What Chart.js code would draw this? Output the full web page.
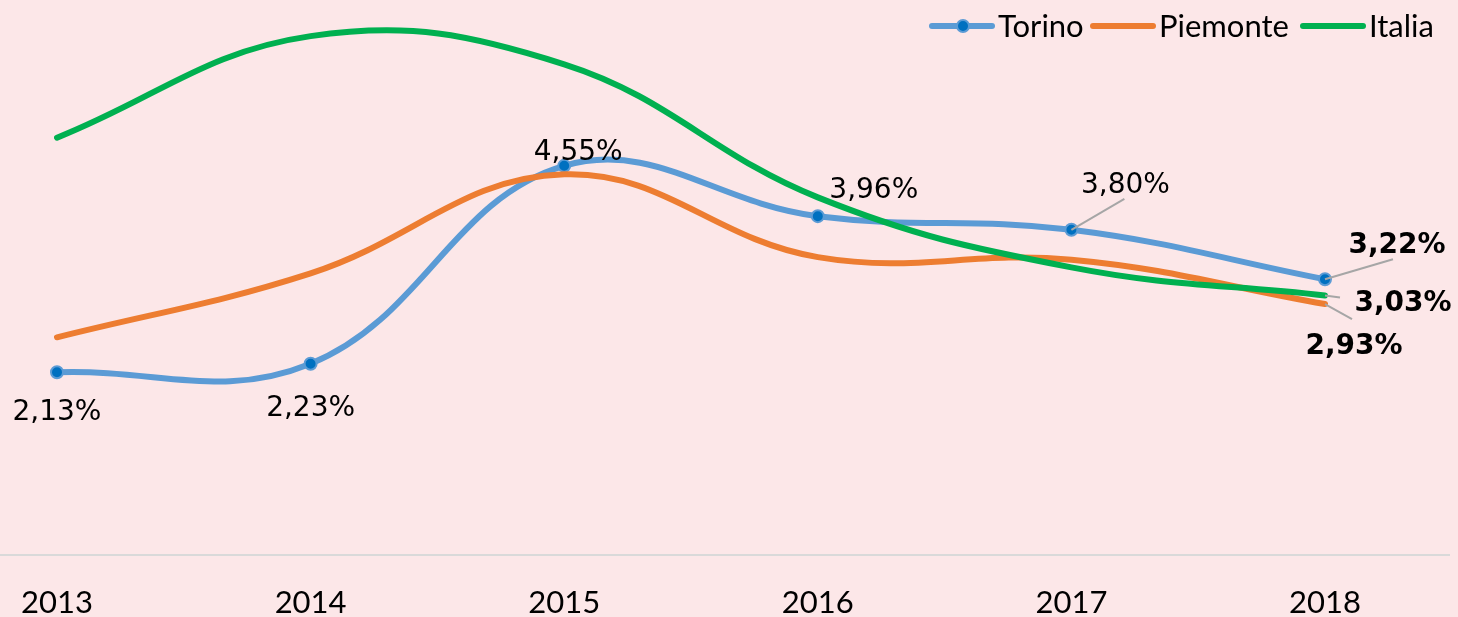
<!DOCTYPE html>
<html>
<head>
<meta charset="utf-8">
<script src="https://cdn.jsdelivr.net/npm/chart.js@4.4.1/dist/chart.umd.min.js"></script>
<style>
  html, body { margin: 0; padding: 0; background: #FCE7E8; overflow: hidden; }
  canvas { display: block; }
</style>
</head>
<body>
<canvas id="myChart" width="1458" height="617"></canvas>
<script>
const years = ['2013', '2014', '2015', '2016', '2017', '2018'];
const torino = [2.13, 2.23, 4.55, 3.96, 3.80, 3.22];
const piemonte = [2.54, 3.29, 4.45, 3.48, 3.45, 2.93];
const italia = [4.88, 6.07, 5.74, 4.18, 3.36, 3.03];

// which points get a label, and where it sits relative to the point
const labels = [
  { ds: 0, i: 0, dx: 0, dy: 48 },
  { ds: 0, i: 1, dx: 0, dy: 52 },
  { ds: 0, i: 2, dx: 14, dy: -6 },
  { ds: 0, i: 3, dx: 56, dy: -18 },
  { ds: 0, i: 4, dx: 54, dy: -37, lx: 53, ly: -31 },
  { ds: 0, i: 5, dx: 72, dy: -26, lx: 68, ly: -20, bold: true },
  { ds: 2, i: 5, dx: 78, dy: 15, lx: 15, ly: 2, bold: true },
  { ds: 1, i: 5, dx: 29, dy: 50, lx: 27, ly: 15, bold: true }
];

const fmt = v => v.toFixed(2).replace('.', ',') + '%';

const extras = {
  id: 'extras',
  beforeDatasetsDraw(chart) {
    const c = chart.ctx;
    c.save();
    c.strokeStyle = '#D9D9D9';
    c.lineWidth = 2;
    c.beginPath();
    c.moveTo(0, chart.chartArea.bottom + 1);
    c.lineTo(1450, chart.chartArea.bottom + 1);
    c.stroke();
    c.restore();
  },
  afterDraw(chart) {
    const c = chart.ctx;
    c.save();
    // data labels
    labels.forEach(l => {
      const pt = chart.getDatasetMeta(l.ds).data[l.i];
      const v = chart.data.datasets[l.ds].data[l.i];
      if (l.lx !== undefined) {
        c.strokeStyle = '#A6A6A6';
        c.lineWidth = 2;
        c.beginPath();
        c.moveTo(pt.x, pt.y);
        c.lineTo(pt.x + l.lx, pt.y + l.ly);
        c.stroke();
      }
      c.fillStyle = '#000';
      c.font = (l.bold ? 'bold ' : '') + '28px "DejaVu Sans"';
      c.textAlign = 'center';
      c.textBaseline = 'alphabetic';
      c.fillText(fmt(v), pt.x + l.dx, pt.y + l.dy);
    });
    // legend
    const items = [
      { ds: 0, x: 932 },
      { ds: 1, x: 1093 },
      { ds: 2, x: 1303 }
    ];
    c.font = '31px Lato';
    c.textAlign = 'left';
    items.forEach(it => {
      const d = chart.data.datasets[it.ds];
      c.strokeStyle = d.borderColor;
      c.lineWidth = 6;
      c.lineCap = 'round';
      c.beginPath();
      c.moveTo(it.x, 26);
      c.lineTo(it.x + 60, 26);
      c.stroke();
      if (d.pointRadius > 0) {
        c.fillStyle = d.pointBackgroundColor;
        c.strokeStyle = d.pointBorderColor;
        c.lineWidth = 2;
        c.beginPath();
        c.arc(it.x + 31, 26, 6, 0, Math.PI * 2);
        c.fill();
        c.stroke();
      }
      c.fillStyle = '#000';
      c.fillText(d.label, it.x + 66, 37);
    });
    c.restore();
  }
};

new Chart(document.getElementById('myChart'), {
  type: 'line',
  data: {
    labels: years,
    datasets: [
      {
        label: 'Torino',
        data: torino,
        borderColor: '#5B9BD5',
        borderWidth: 6,
        tension: 0.4,
        pointRadius: 6,
        pointBackgroundColor: '#0070C0',
        pointBorderColor: '#5B9BD5',
        pointBorderWidth: 2,
        order: 3
      },
      {
        label: 'Piemonte',
        data: piemonte,
        borderColor: '#ED7D31',
        borderWidth: 6,
        tension: 0.4,
        pointRadius: 0,
        order: 2
      },
      {
        label: 'Italia',
        data: italia,
        borderColor: '#00B050',
        borderWidth: 6,
        tension: 0.4,
        pointRadius: 0,
        order: 1
      }
    ]
  },
  options: {
    responsive: false,
    animation: false,
    layout: { padding: { left: 57, right: 133, top: 7, bottom: -34 } },
    plugins: {
      legend: { display: false },
      tooltip: { enabled: false }
    },
    elements: { line: { borderCapStyle: 'round' } },
    scales: {
      x: {
        offset: false,
        grid: { display: false, drawTicks: false },
        border: { display: false },
        afterFit(scale) {
          scale.paddingLeft = 0;
          scale.paddingRight = 0;
        },
        ticks: {
          color: '#000',
          font: { family: 'Lato', size: 31, lineHeight: 1 },
          padding: 33,
          maxRotation: 0,
          autoSkip: false
        }
      },
      y: {
        display: false,
        min: 0,
        max: 6.4
      }
    }
  },
  plugins: [extras]
});
</script>
</body>
</html>
